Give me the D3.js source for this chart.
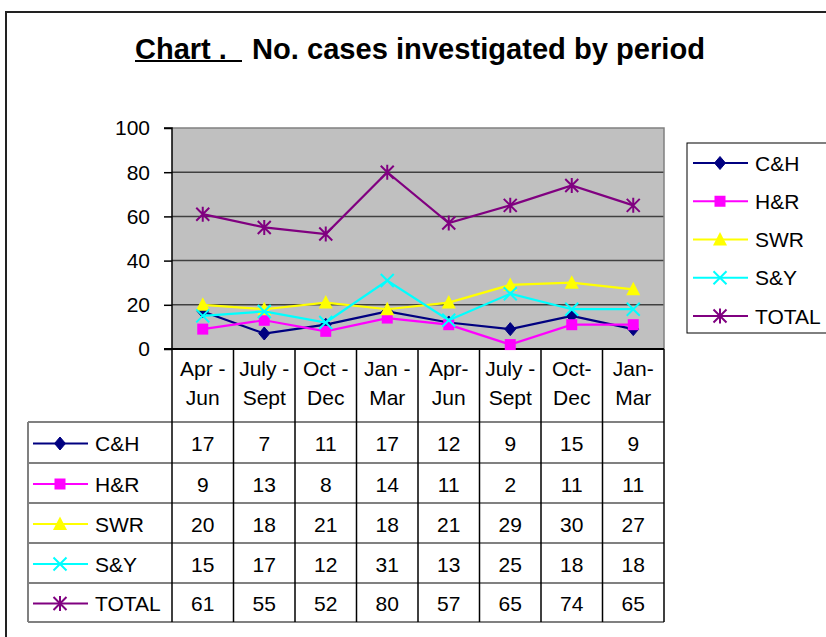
<!DOCTYPE html>
<html>
<head>
<meta charset="utf-8">
<script src="https://cdn.jsdelivr.net/npm/d3@7/dist/d3.min.js"></script>
<style>
  html, body { margin: 0; padding: 0; background: #fff; }
  svg { display: block; font-family: "Liberation Sans", Arial, sans-serif; }
</style>
</head>
<body>
<svg id="chart" width="826" height="637"></svg>
<script>
// ---- data ----
const categoriesLine1 = ["Apr -", "July -", "Oct -", "Jan -", "Apr-", "July -", "Oct-", "Jan-"];
const categoriesLine2 = ["Jun", "Sept", "Dec", "Mar", "Jun", "Sept", "Dec", "Mar"];
const seriesNames = ["C&H", "H&R", "SWR", "S&Y", "TOTAL"];
const valuesCH    = [17, 7, 11, 17, 12, 9, 15, 9];
const valuesHR    = [9, 13, 8, 14, 11, 2, 11, 11];
const valuesSWR   = [20, 18, 21, 18, 21, 29, 30, 27];
const valuesSY    = [15, 17, 12, 31, 13, 25, 18, 18];
const valuesTOTAL = [61, 55, 52, 80, 57, 65, 74, 65];
const yTicks = [0, 20, 40, 60, 80, 100];

const seriesValues = [valuesCH, valuesHR, valuesSWR, valuesSY, valuesTOTAL];
const colors = ["#000080", "#FF00FF", "#FFFF00", "#00FFFF", "#800080"];
const markerTypes = ["diamond", "square", "triangle", "x", "star"];
const categories = categoriesLine1.map((d, i) => i);

const svg = d3.select("#chart");

// outer frame
svg.append("path").attr("d", "M6,637 L6,12 L828,12")
  .attr("fill", "none").attr("stroke", "#222").attr("stroke-width", 2);

// title
svg.append("text").attr("x", 135).attr("y", 59)
  .attr("font-size", 29).attr("font-weight", "bold").attr("fill", "#000")
  .text("Chart .");
svg.append("line").attr("x1", 135).attr("x2", 242).attr("y1", 61).attr("y2", 61)
  .attr("stroke", "#000").attr("stroke-width", 2);
svg.append("text").attr("x", 252).attr("y", 59)
  .attr("font-size", 29).attr("font-weight", "bold").attr("fill", "#000")
  .attr("textLength", 453).attr("lengthAdjust", "spacingAndGlyphs")
  .text("No. cases investigated by period");

// plot area
const pLeft = 172, pRight = 664, pTop = 128, pBottom = 349;
const x = d3.scaleBand().domain(categories).range([pLeft, pRight]);
const y = d3.scaleLinear().domain([0, 100]).range([pBottom, pTop]);

svg.append("rect").attr("x", pLeft).attr("y", pTop)
  .attr("width", pRight - pLeft).attr("height", pBottom - pTop)
  .attr("fill", "#C0C0C0");

// gridlines
svg.append("g").selectAll("line").data(yTicks.filter(t => t > 0 && t < 100)).join("line")
  .attr("x1", pLeft).attr("x2", pRight)
  .attr("y1", d => y(d)).attr("y2", d => y(d))
  .attr("stroke", "#404040").attr("stroke-width", 1.5);

// plot border top/right
svg.append("path").attr("d", `M${pLeft},${pTop} L${pRight},${pTop} L${pRight},${pBottom}`)
  .attr("fill", "none").attr("stroke", "#808080").attr("stroke-width", 1.5);

// y axis
const yAxis = d3.axisLeft(y).tickValues(yTicks).tickSize(8).tickPadding(14);
const gy = svg.append("g").attr("transform", `translate(${pLeft},0)`).call(yAxis);
gy.select(".domain").attr("stroke", "#000").attr("stroke-width", 1.5).attr("d", `M-8,${pTop}H0V${pBottom}H-8`);
gy.selectAll(".tick line").attr("stroke", "#000").attr("stroke-width", 1.5);
gy.selectAll(".tick text").attr("font-size", 21).attr("fill", "#000")
  .attr("font-family", "'Liberation Sans', Arial, sans-serif")
  .attr("dy", "0.33em");

// x axis line
svg.append("line").attr("x1", pLeft - 8).attr("x2", pRight).attr("y1", pBottom).attr("y2", pBottom)
  .attr("stroke", "#000").attr("stroke-width", 2);

// marker drawing
function drawMarker(g, type, cx, cy, color) {
  if (type === "diamond") {
    g.append("path").attr("d", `M${cx},${cy-6.5} L${cx+5.5},${cy} L${cx},${cy+6.5} L${cx-5.5},${cy} Z`)
      .attr("fill", color).attr("stroke", color).attr("stroke-width", 1);
  } else if (type === "square") {
    g.append("rect").attr("x", cx - 5.5).attr("y", cy - 5.5).attr("width", 11).attr("height", 11)
      .attr("fill", color);
  } else if (type === "triangle") {
    g.append("path").attr("d", `M${cx},${cy-7.5} L${cx+7},${cy+6} L${cx-7},${cy+6} Z`)
      .attr("fill", color);
  } else if (type === "x") {
    g.append("path").attr("d", `M${cx-6.5},${cy-6.5} L${cx+6.5},${cy+6.5} M${cx+6.5},${cy-6.5} L${cx-6.5},${cy+6.5}`)
      .attr("stroke", color).attr("stroke-width", 2).attr("fill", "none");
  } else if (type === "star") {
    g.append("path").attr("d", `M${cx-6.5},${cy-6.5} L${cx+6.5},${cy+6.5} M${cx+6.5},${cy-6.5} L${cx-6.5},${cy+6.5} M${cx},${cy-7.5} L${cx},${cy+7.5}`)
      .attr("stroke", color).attr("stroke-width", 2).attr("fill", "none");
  }
}

// series lines + markers
const line = d3.line().x((d, i) => x(i) + x.bandwidth() / 2).y(d => y(d));
seriesValues.forEach((vals, si) => {
  const g = svg.append("g");
  g.append("path").datum(vals).attr("d", line)
    .attr("fill", "none").attr("stroke", colors[si]).attr("stroke-width", 2.2);
  vals.forEach((v, i) => drawMarker(g, markerTypes[si], x(i) + x.bandwidth() / 2, y(v), colors[si]));
});

// legend
const legX = 687, legTop = 143, legBottom = 333;
svg.append("rect").attr("x", legX).attr("y", legTop).attr("width", 826 - legX + 5).attr("height", legBottom - legTop)
  .attr("fill", "#fff").attr("stroke", "#000").attr("stroke-width", 1);
const legY = d3.scalePoint().domain(seriesNames).range([163, 316]);
seriesNames.forEach((name, si) => {
  const g = svg.append("g");
  const cy = legY(name);
  g.append("line").attr("x1", 693).attr("x2", 748).attr("y1", cy).attr("y2", cy)
    .attr("stroke", colors[si]).attr("stroke-width", 2.2);
  drawMarker(g, markerTypes[si], 720, cy, colors[si]);
  g.append("text").attr("x", 755).attr("y", cy + 7.5).attr("font-size", 21).attr("fill", "#000").text(name);
});

// data table
const rowLines = [422, 463, 503, 543, 583, 622];
const tableLeft = 28;
categories.forEach(i => {
  const cx = x(i) + x.bandwidth() / 2;
  svg.append("text").attr("x", cx).attr("y", 376).attr("text-anchor", "middle")
    .attr("font-size", 21).attr("fill", "#000").text(categoriesLine1[i]);
  svg.append("text").attr("x", cx).attr("y", 405).attr("text-anchor", "middle")
    .attr("font-size", 21).attr("fill", "#000").text(categoriesLine2[i]);
});
rowLines.forEach(ry => {
  svg.append("line").attr("x1", tableLeft).attr("x2", pRight).attr("y1", ry).attr("y2", ry)
    .attr("stroke", "#808080").attr("stroke-width", 2);
});
const colEdges = categories.map(i => x(i)).concat([pRight]);
colEdges.forEach(cxv => {
  svg.append("line").attr("x1", cxv).attr("x2", cxv).attr("y1", pBottom).attr("y2", rowLines[rowLines.length - 1])
    .attr("stroke", "#000").attr("stroke-width", 1.5);
});
svg.append("line").attr("x1", tableLeft).attr("x2", tableLeft).attr("y1", rowLines[0]).attr("y2", rowLines[rowLines.length - 1])
  .attr("stroke", "#808080").attr("stroke-width", 2);

seriesNames.forEach((name, si) => {
  const cy = (rowLines[si] + rowLines[si + 1]) / 2 + 1;
  const g = svg.append("g");
  g.append("line").attr("x1", 33).attr("x2", 88).attr("y1", cy).attr("y2", cy)
    .attr("stroke", colors[si]).attr("stroke-width", 2.2);
  drawMarker(g, markerTypes[si], 60, cy, colors[si]);
  g.append("text").attr("x", 95).attr("y", cy + 7.5).attr("font-size", 21).attr("fill", "#000").text(name);
  seriesValues[si].forEach((v, i) => {
    g.append("text").attr("x", x(i) + x.bandwidth() / 2).attr("y", cy + 7.5)
      .attr("text-anchor", "middle").attr("font-size", 21).attr("fill", "#000").text(v);
  });
});
</script>
</body>
</html>
